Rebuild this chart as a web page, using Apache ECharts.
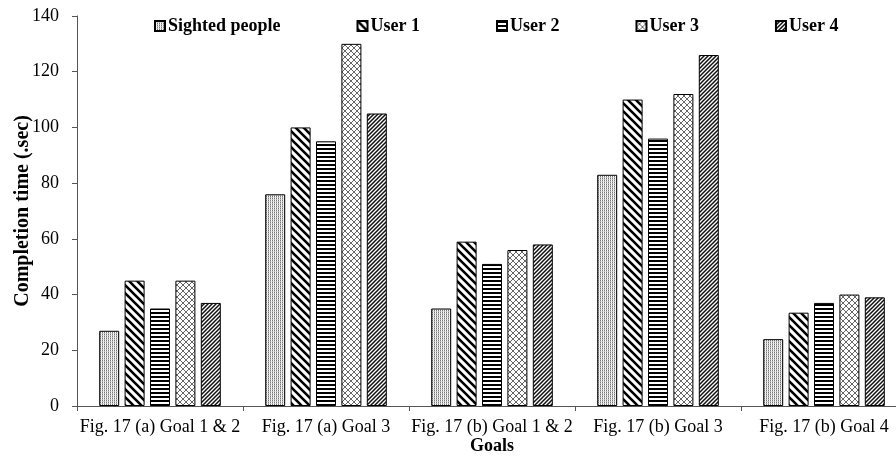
<!DOCTYPE html>
<html><head><meta charset="utf-8">
<script src="https://cdn.jsdelivr.net/npm/echarts@6/dist/echarts.min.js"></script>
<style>html,body{margin:0;padding:0;background:#fff}#c{width:896px;height:459px}</style>
</head><body><div id="c"></div>
<script>
const categories = ['Fig. 17 (a) Goal 1 & 2','Fig. 17 (a) Goal 3','Fig. 17 (b) Goal 1 & 2','Fig. 17 (b) Goal 3','Fig. 17 (b) Goal 4'];
const seriesNames = ['Sighted people','User 1','User 2','User 3','User 4'];
const sighted = [27, 76, 35, 83, 24];
const user1 = [45, 100, 59, 110, 33.5];
const user2 = [35, 95, 51, 96, 37];
const user3 = [45, 130, 56, 112, 40];
const user4 = [37, 105, 58, 126, 39];
const yTicks = [0, 20, 40, 60, 80, 100, 120, 140];

function mk(w, h, draw) {
  const c = document.createElement('canvas'); c.width = w; c.height = h;
  const g = c.getContext('2d'); g.fillStyle = '#fff'; g.fillRect(0, 0, w, h); draw(g, w, h);
  return { image: c, repeat: 'repeat' };
}
const pats = [
  mk(2, 2, g => { g.fillStyle = '#777'; g.fillRect(0, 0, 1, 1); g.fillStyle = '#bbb'; g.fillRect(0, 1, 1, 1); g.fillStyle = '#e4e4e4'; g.fillRect(1, 1, 1, 1); }),
  mk(8, 8, g => { g.strokeStyle = '#000'; g.lineWidth = 2.6; g.beginPath(); g.moveTo(-2, -2); g.lineTo(10, 10); g.moveTo(-2, 6); g.lineTo(2, 10); g.moveTo(6, -2); g.lineTo(10, 2); g.stroke(); }),
  mk(4, 4, g => { g.fillStyle = '#000'; g.fillRect(0, 0, 4, 2); }),
  mk(6, 6, g => { g.strokeStyle = '#666'; g.lineWidth = 1; g.beginPath(); g.moveTo(0, 0); g.lineTo(6, 6); g.moveTo(6, 0); g.lineTo(0, 6); g.stroke(); }),
  mk(4, 4, g => { g.strokeStyle = '#111'; g.lineWidth = 1.5; g.beginPath(); g.moveTo(-1, 5); g.lineTo(5, -1); g.moveTo(-1, 1); g.lineTo(1, -1); g.moveTo(3, 5); g.lineTo(5, 3); g.stroke(); })
];
const data = [sighted, user1, user2, user3, user4];
const font = 'Liberation Serif';
const chart = echarts.init(document.getElementById('c'));
chart.setOption({
  animation: false,
  textStyle: { fontFamily: font },
  legend: {
    top: 12, left: 149, itemWidth: 10, itemHeight: 10, itemGap: 76,
    icon: 'rect',
    textStyle: { fontFamily: font, fontWeight: 'bold', fontSize: 18, color: '#000', padding: [0, 0, 0, -2] },
    data: seriesNames
  },
  grid: { left: 77, top: 16, width: 830, height: 390, containLabel: false, outerBoundsMode: 'none' },
  xAxis: {
    type: 'category', data: categories,
    name: 'Goals', nameLocation: 'middle', nameGap: 31, nameMoveOverlap: false,
    nameTextStyle: { fontFamily: font, fontWeight: 'bold', fontSize: 18, color: '#000' },
    axisLine: { lineStyle: { color: '#555' } },
    axisTick: { show: true, length: 5, lineStyle: { color: '#555' } },
    axisLabel: { fontFamily: font, fontSize: 18, color: '#000', margin: 12, interval: 0 }
  },
  yAxis: {
    type: 'value', min: 0, max: 140, interval: 20,
    name: 'Completion time (.sec)', nameLocation: 'middle', nameGap: 44, nameMoveOverlap: false,
    nameTextStyle: { fontFamily: font, fontWeight: 'bold', fontSize: 20, color: '#000' },
    splitLine: { show: false },
    axisLine: { show: true, lineStyle: { color: '#555' } },
    axisTick: { show: true, length: 5, lineStyle: { color: '#555' } },
    axisLabel: { fontFamily: font, fontSize: 18, color: '#000', margin: 18, formatter: v => yTicks.includes(v) ? String(v) : '' }
  },
  series: seriesNames.map((n, i) => ({
    name: n, type: 'bar', data: data[i], barWidth: 20, barGap: '27%',
    itemStyle: { color: pats[i], borderColor: '#000', borderWidth: 1 }
  }))
});
</script></body></html>
